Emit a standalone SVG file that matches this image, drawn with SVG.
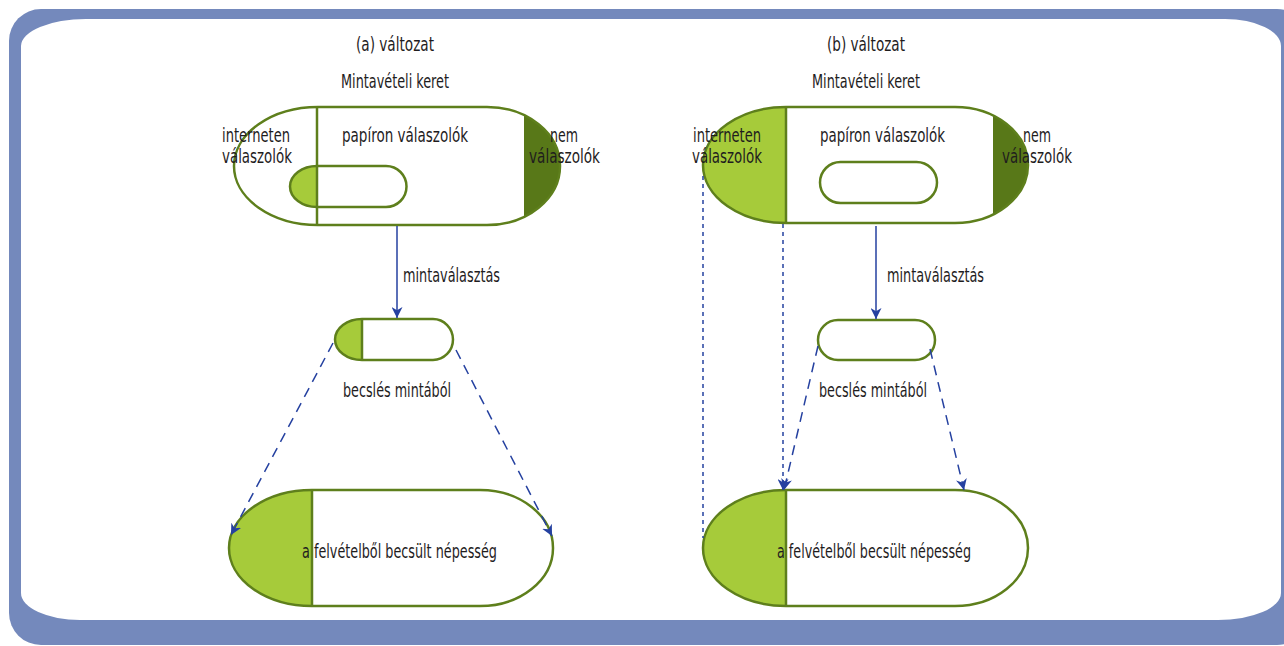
<svg xmlns="http://www.w3.org/2000/svg" width="1284" height="646" viewBox="0 0 1284 646">
<defs>
<style>
.t{font-family:"Liberation Sans Narrow","DejaVu Sans Condensed","Liberation Sans",sans-serif;font-size:19px;fill:#1f1d1e}
.sh{stroke:#5e7f1c;stroke-width:2.5;fill:none}
.lg{fill:#a6cb3a}
.dg{fill:#587818}
.ar{stroke:#2541a0;stroke-width:1.5;fill:none}
.da{stroke-dasharray:10 7}
.do{stroke-dasharray:4 4}
</style>
<marker id="ah" viewBox="0 0 10 10" refX="10" refY="5" markerWidth="11" markerHeight="11" markerUnits="userSpaceOnUse" orient="auto">
<path d="M0,0 L10,5 L0,10 L3,5 Z" fill="#2541a0"/>
</marker>
<clipPath id="cA"><path d="M318,107 H487 A73 59 0 0 1 487,225 H318 A84 59 0 0 1 318,107 Z"/></clipPath>
<clipPath id="cAs"><path d="M317,166 H386 A20.5 20.5 0 0 1 386,207 H317 A27 20.5 0 0 1 317,166 Z"/></clipPath>
<clipPath id="cAm"><path d="M362,319 H433 A20 20.5 0 0 1 433,360 H362 A27 20.5 0 0 1 362,319 Z"/></clipPath>
<clipPath id="cAp"><path d="M312,490 H480 A73 58 0 0 1 480,606 H312 A83 58 0 0 1 312,490 Z"/></clipPath>
<clipPath id="cB"><path d="M786,107 H955 A73 58 0 0 1 955,223 H786 A83 58 0 0 1 786,107 Z"/></clipPath>
<clipPath id="cBp"><path d="M786,490 H955 A73 58 0 0 1 955,606 H786 A83 58 0 0 1 786,490 Z"/></clipPath>
</defs>
<g id="frame">
<rect x="9" y="9" width="1300" height="636" rx="32" fill="#7489bc"/>
<path d="M21,46 A65 27 0 0 1 86,19 H1225 A56 27 0 0 1 1281,46 V593 A63 27 0 0 1 1218,620 H80 A59 27 0 0 1 21,593 Z" fill="#fff"/>
</g>
<g id="labels-a">
<text class="t" x="395" y="51" text-anchor="middle" textLength="78" lengthAdjust="spacingAndGlyphs">(a) változat</text>
<text class="t" x="395" y="88" text-anchor="middle" textLength="108" lengthAdjust="spacingAndGlyphs">Mintavételi keret</text>
</g>
<g id="frame-a">
<rect class="dg" x="524" y="100" width="50" height="130" clip-path="url(#cA)"/>
<rect class="lg" x="280" y="160" width="37" height="50" clip-path="url(#cAs)"/>
<path class="sh" d="M318,107 H487 A73 59 0 0 1 487,225 H318 A84 59 0 0 1 318,107 Z"/>
<line class="sh" x1="317" y1="107" x2="317" y2="225"/>
<path class="sh" d="M317,166 H386 A20.5 20.5 0 0 1 386,207 H317 A27 20.5 0 0 1 317,166 Z"/>
<text class="t" x="222" y="142" textLength="68" lengthAdjust="spacingAndGlyphs">interneten</text>
<text class="t" x="222" y="163" textLength="70" lengthAdjust="spacingAndGlyphs">válaszolók</text>
<text class="t" x="342" y="142" textLength="126" lengthAdjust="spacingAndGlyphs">papíron válaszolók</text>
<text class="t" x="550" y="142" textLength="28" lengthAdjust="spacingAndGlyphs">nem</text>
<text class="t" x="529" y="163" textLength="71" lengthAdjust="spacingAndGlyphs">válaszolók</text>
</g>
<g id="sample-a">
<rect class="lg" x="330" y="315" width="32" height="50" clip-path="url(#cAm)"/>
<path class="sh" d="M362,319 H433 A20 20.5 0 0 1 433,360 H362 A27 20.5 0 0 1 362,319 Z"/>
<line class="sh" x1="362" y1="319" x2="362" y2="360"/>
</g>
<g id="population-a">
<rect class="lg" x="225" y="485" width="87" height="125" clip-path="url(#cAp)"/>
<path class="sh" d="M312,490 H480 A73 58 0 0 1 480,606 H312 A83 58 0 0 1 312,490 Z"/>
<line class="sh" x1="312" y1="490" x2="312" y2="606"/>
<text class="t" x="302" y="558" textLength="195" lengthAdjust="spacingAndGlyphs">a felvételből becsült népesség</text>
</g>
<g id="labels-b">
<text class="t" x="866" y="51" text-anchor="middle" textLength="78" lengthAdjust="spacingAndGlyphs">(b) változat</text>
<text class="t" x="866" y="88" text-anchor="middle" textLength="108" lengthAdjust="spacingAndGlyphs">Mintavételi keret</text>
</g>
<g id="frame-b">
<rect class="lg" x="698" y="100" width="88" height="130" clip-path="url(#cB)"/>
<rect class="dg" x="993" y="100" width="45" height="130" clip-path="url(#cB)"/>
<path class="sh" d="M786,107 H955 A73 58 0 0 1 955,223 H786 A83 58 0 0 1 786,107 Z"/>
<line class="sh" x1="786" y1="107" x2="786" y2="223"/>
<rect class="sh" x="820" y="162" width="117" height="41" rx="20.5"/>
<text class="t" x="693" y="142" textLength="68" lengthAdjust="spacingAndGlyphs">interneten</text>
<text class="t" x="692" y="163" textLength="70" lengthAdjust="spacingAndGlyphs">válaszolók</text>
<text class="t" x="820" y="142" textLength="125" lengthAdjust="spacingAndGlyphs">papíron válaszolók</text>
<text class="t" x="1023" y="142" textLength="28" lengthAdjust="spacingAndGlyphs">nem</text>
<text class="t" x="1002" y="163" textLength="70" lengthAdjust="spacingAndGlyphs">válaszolók</text>
</g>
<g id="sample-b">
<rect class="sh" x="818" y="320" width="117" height="40" rx="20"/>
</g>
<g id="population-b">
<rect class="lg" x="698" y="485" width="88" height="125" clip-path="url(#cBp)"/>
<path class="sh" d="M786,490 H955 A73 58 0 0 1 955,606 H786 A83 58 0 0 1 786,490 Z"/>
<line class="sh" x1="786" y1="490" x2="786" y2="606"/>
<text class="t" x="777" y="558" textLength="194" lengthAdjust="spacingAndGlyphs">a felvételből becsült népesség</text>
</g>
<g id="connectors">
<line class="ar" x1="397" y1="226" x2="397" y2="318" marker-end="url(#ah)"/>
<text class="t" x="403" y="282" textLength="97" lengthAdjust="spacingAndGlyphs">mintaválasztás</text>
<line class="ar da" x1="333" y1="343" x2="231" y2="535" marker-end="url(#ah)"/>
<line class="ar da" x1="456" y1="350" x2="552" y2="536" marker-end="url(#ah)"/>
<text class="t" x="343" y="397" textLength="108" lengthAdjust="spacingAndGlyphs">becslés mintából</text>
<line class="ar" x1="876" y1="226" x2="876" y2="319" marker-end="url(#ah)"/>
<text class="t" x="887" y="282" textLength="97" lengthAdjust="spacingAndGlyphs">mintaválasztás</text>
<line class="ar da" x1="818" y1="346" x2="784" y2="490" marker-end="url(#ah)"/>
<line class="ar da" x1="930" y1="349" x2="964" y2="490" marker-end="url(#ah)"/>
<text class="t" x="819" y="397" textLength="108" lengthAdjust="spacingAndGlyphs">becslés mintából</text>
<line class="ar do" x1="703" y1="176" x2="703" y2="538"/>
<line class="ar do" x1="783" y1="224" x2="783" y2="490" marker-end="url(#ah)"/>
</g>
</svg>
